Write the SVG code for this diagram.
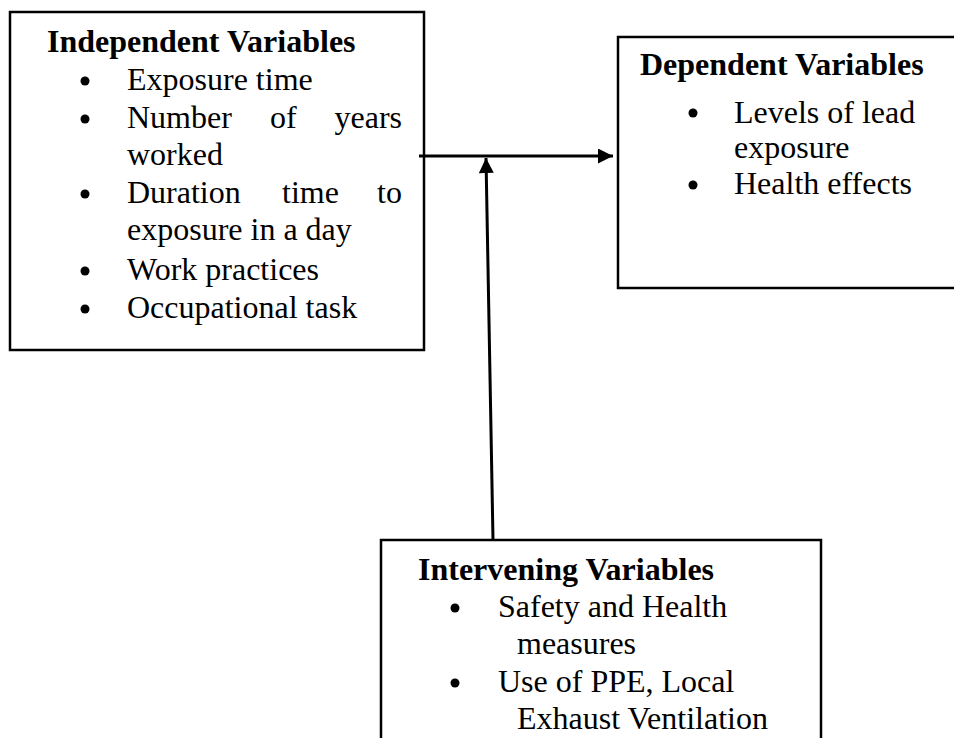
<svg xmlns="http://www.w3.org/2000/svg" width="954" height="738" viewBox="0 0 954 738">
<style>
.box{fill:#fff;stroke:#000;stroke-width:2.5}
.t{font-family:"Liberation Serif","Times New Roman",serif;font-size:32px;fill:#000}
.h{font-weight:bold}
.b{fill:#000}
.c{stroke:#000;stroke-width:3;fill:none}
</style>
<defs>
<marker id="ah" viewBox="0 0 10 10" refX="10" refY="5" markerWidth="5.3" markerHeight="5" markerUnits="strokeWidth" orient="auto">
<path d="M0,0 L10,5 L0,10 z" fill="#000"/>
</marker>
</defs>
<rect width="954" height="738" fill="#fff"/>
<g id="independent">
<rect class="box" x="10" y="12" width="414" height="338"/>
<text class="t h" x="47" y="52">Independent Variables</text>
<circle class="b" cx="85" cy="81" r="4.5"/>
<text class="t" x="127" y="90">Exposure time</text>
<circle class="b" cx="85" cy="119" r="4.5"/>
<text class="t" x="127" y="128">Number</text>
<text class="t" x="270" y="128">of</text>
<text class="t" x="402" y="128" text-anchor="end">years</text>
<text class="t" x="127" y="165">worked</text>
<circle class="b" cx="85" cy="194" r="4.5"/>
<text class="t" x="127" y="203">Duration</text>
<text class="t" x="282" y="203">time</text>
<text class="t" x="402" y="203" text-anchor="end">to</text>
<text class="t" x="127" y="240">exposure in a day</text>
<circle class="b" cx="85" cy="271" r="4.5"/>
<text class="t" x="127" y="280">Work practices</text>
<circle class="b" cx="85" cy="309" r="4.5"/>
<text class="t" x="127" y="318">Occupational task</text>
</g>
<g id="dependent">
<rect class="box" x="618" y="37" width="345" height="251"/>
<text class="t h" x="640" y="75">Dependent Variables</text>
<circle class="b" cx="693" cy="113" r="4.5"/>
<text class="t" x="734" y="123">Levels of lead</text>
<text class="t" x="734" y="158">exposure</text>
<circle class="b" cx="693" cy="185" r="4.5"/>
<text class="t" x="734" y="194">Health effects</text>
</g>
<g id="intervening">
<rect class="box" x="381" y="540" width="440" height="210"/>
<text class="t h" x="418" y="580">Intervening Variables</text>
<circle class="b" cx="455" cy="608" r="4.5"/>
<text class="t" x="498" y="617">Safety and Health</text>
<text class="t" x="517" y="654">measures</text>
<circle class="b" cx="455" cy="683" r="4.5"/>
<text class="t" x="498" y="692">Use of PPE, Local</text>
<text class="t" x="517" y="729">Exhaust Ventilation</text>
</g>
<g id="connectors">
<line class="c" x1="419" y1="156" x2="613" y2="156" marker-end="url(#ah)"/>
<line class="c" x1="493" y1="540" x2="486" y2="158" marker-end="url(#ah)"/>
</g>
</svg>
